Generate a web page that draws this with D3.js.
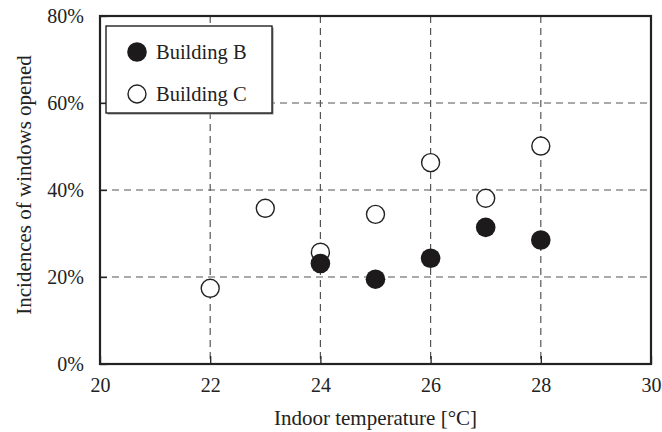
<!DOCTYPE html>
<html><head><meta charset="utf-8">
<script src="https://cdn.jsdelivr.net/npm/d3@7"></script>
</head><body style="margin:0">
<svg id="c" width="662" height="432"></svg>
<script>
const temps = [22, 23, 24, 25, 26, 27, 28];
const buildingB = [null, null, 23.1, 19.5, 24.3, 31.4, 28.5];
const buildingC = [17.4, 35.8, 25.7, 34.4, 46.3, 38.1, 50.1];
const xTicks = [20, 22, 24, 26, 28, 30];
const yTicks = [0, 20, 40, 60, 80];
const seriesNames = ["Building B", "Building C"];

const FONT = '"Liberation Serif"';
const svg = d3.select("#c");
const L = 100, R = 651, T = 16, B = 364;
const x = d3.scaleLinear().domain([20, 30]).range([L, R]);
const y = d3.scaleLinear().domain([0, 80]).range([B, T]);

svg.append("rect").attr("width", 662).attr("height", 432).attr("fill", "#fff");

// grid
const g = svg.append("g");
g.selectAll(".gx").data(xTicks.filter(d => d > 20 && d < 30)).enter().append("line")
  .attr("x1", d => x(d)).attr("x2", d => x(d)).attr("y1", T).attr("y2", B)
  .attr("stroke", "#555").attr("stroke-width", 1.2).attr("stroke-dasharray", "7,5");
g.selectAll(".gy").data(yTicks.filter(d => d > 0 && d < 80)).enter().append("line")
  .attr("x1", L).attr("x2", R).attr("y1", d => y(d)).attr("y2", d => y(d))
  .attr("stroke", "#555").attr("stroke-width", 1.2).attr("stroke-dasharray", "7,5");

// axes
const xAxis = d3.axisBottom(x).tickValues(xTicks).tickSize(-8).tickPadding(14).tickFormat(d => d);
const yAxis = d3.axisLeft(y).tickValues(yTicks).tickSize(-7).tickPadding(16).tickFormat(d => d + "%");
const gx = svg.append("g").attr("transform", `translate(0,${B})`).call(xAxis);
const gy = svg.append("g").attr("transform", `translate(${L},0)`).call(yAxis);
[gx, gy].forEach(a => {
  a.attr("font-family", null).attr("font-size", null);
  a.select(".domain").remove();
  a.selectAll(".tick line").attr("stroke", "#222").attr("stroke-width", 1.3);
  a.selectAll("text").style("font-family", FONT).attr("font-size", 20).attr("fill", "#222");
});
gx.selectAll("text").attr("dy", "0.71em");

// frame
svg.append("rect").attr("x", L).attr("y", T).attr("width", R - L).attr("height", B - T)
  .attr("fill", "none").attr("stroke", "#222").attr("stroke-width", 2.2);

// points
const pts = svg.append("g");
pts.selectAll(".c").data(temps.map((t, i) => ({t, v: buildingC[i]})).filter(d => d.v != null))
  .enter().append("circle")
  .attr("cx", d => x(d.t)).attr("cy", d => y(d.v)).attr("r", 9)
  .attr("fill", "#fff").attr("stroke", "#222").attr("stroke-width", 1.4);
pts.selectAll(".b").data(temps.map((t, i) => ({t, v: buildingB[i]})).filter(d => d.v != null))
  .enter().append("circle")
  .attr("cx", d => x(d.t)).attr("cy", d => y(d.v)).attr("r", 9.8)
  .attr("fill", "#1c1a1a");

// legend
const lg = svg.append("g");
lg.append("rect").attr("x", 107.5).attr("y", 27.5).attr("width", 166).attr("height", 87)
  .attr("fill", "#888");
lg.append("rect").attr("x", 106).attr("y", 26).attr("width", 166).attr("height", 87)
  .attr("fill", "#fff").attr("stroke", "#222").attr("stroke-width", 1.4);
seriesNames.forEach((n, i) => {
  const cy = 52 + i * 42;
  if (i === 0) lg.append("circle").attr("cx", 137).attr("cy", cy).attr("r", 9.8).attr("fill", "#1c1a1a");
  else lg.append("circle").attr("cx", 137).attr("cy", cy).attr("r", 9).attr("fill", "#fff").attr("stroke", "#222").attr("stroke-width", 1.4);
  lg.append("text").attr("x", 156).attr("y", cy + 7).text(n)
    .style("font-family", FONT).attr("font-size", 20.5).attr("fill", "#222");
});

// axis titles
svg.append("text").attr("x", (L + R) / 2).attr("y", 425).attr("text-anchor", "middle")
  .style("font-family", FONT).attr("font-size", 21).attr("fill", "#222").text("Indoor temperature [°C]");
svg.append("text").attr("transform", `translate(31,${(T + B) / 2 - 5}) rotate(-90)`).attr("text-anchor", "middle")
  .style("font-family", FONT).attr("font-size", 21).attr("fill", "#222").text("Incidences of windows opened");
</script>
</body></html>
